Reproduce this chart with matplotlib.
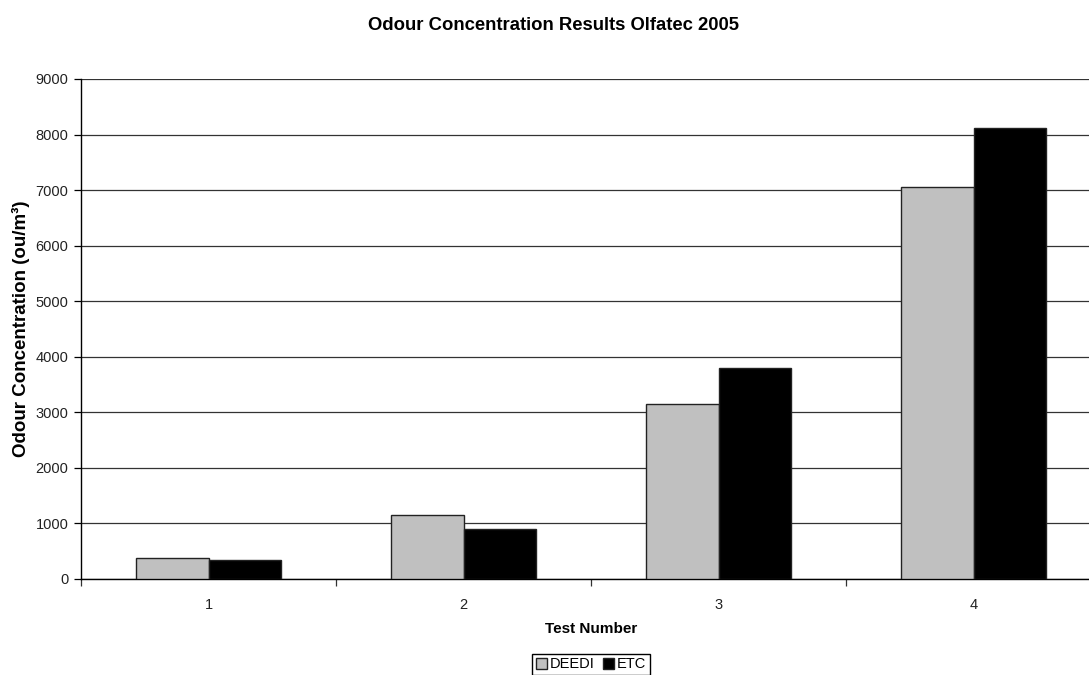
import matplotlib
matplotlib.use("Agg")
import matplotlib.pyplot as plt
import numpy as np

plt.rcParams['font.family'] = ['Liberation Sans', 'DejaVu Sans']

tests = ["1", "2", "3", "4"]
deedi = [380, 1160, 3150, 7060]
etc = [340, 900, 3800, 8110]
yticks = [0, 1000, 2000, 3000, 4000, 5000, 6000, 7000, 8000, 9000]

fig = plt.figure(figsize=(10.89, 6.75), dpi=100)
ax = fig.add_axes([81 / 1089, 1 - 579 / 675, (1101 - 81) / 1089, 500 / 675])

x = np.arange(len(tests))
w = 1 / 3.5
ax.bar(x - w / 2, deedi, width=w, color='#C0C0C0', edgecolor='#222222', linewidth=1.0,
       label='DEEDI', zorder=3)
ax.bar(x + w / 2, etc, width=w, color='black', edgecolor='#222222', linewidth=1.0,
       label='ETC', zorder=3)

ax.set_xlim(-0.5, len(tests) - 0.5)
ax.set_ylim(0, 9000)
ax.set_yticks(yticks)
ax.set_yticklabels([str(v) for v in yticks], fontsize=10.5, color='#222222')
ax.yaxis.grid(True, color='#333333', linewidth=0.9, zorder=0)
ax.set_axisbelow(True)

ax.set_xticks(x)
ax.set_xticklabels(tests, fontsize=10.5, color='#222222')
ax.tick_params(axis='x', which='major', length=0, pad=14)
ax.set_xticks(np.arange(-0.5, len(tests) + 0.5, 1), minor=True)
ax.tick_params(axis='x', which='minor', length=5, width=0.9, color='#333333')
ax.tick_params(axis='y', length=5, width=0.9, pad=4)

for s in ['top', 'right']:
    ax.spines[s].set_visible(False)
ax.spines['left'].set_linewidth(1.0)
ax.spines['bottom'].set_linewidth(1.0)

ax.set_xlabel('Test Number', fontsize=11, fontweight='bold', labelpad=7)
ax.set_ylabel('Odour Concentration (ou/m³)', fontsize=13.5, fontweight='bold', labelpad=4)

fig.text(553 / 1089, 1 - 26 / 675, 'Odour Concentration Results Olfatec 2005',
         ha='center', va='center', fontsize=13.3, fontweight='bold')

leg = fig.legend(loc='center', bbox_to_anchor=(591 / 1089, 1 - 664.5 / 675), ncol=2,
                 fontsize=10.5, frameon=True, fancybox=False, edgecolor='black',
                 framealpha=1, handlelength=0.75, handleheight=0.75, handletextpad=0.2,
                 columnspacing=0.6, borderpad=0.25, borderaxespad=0)
leg.get_frame().set_linewidth(1.0)

fig.savefig('out.png', dpi=100)
